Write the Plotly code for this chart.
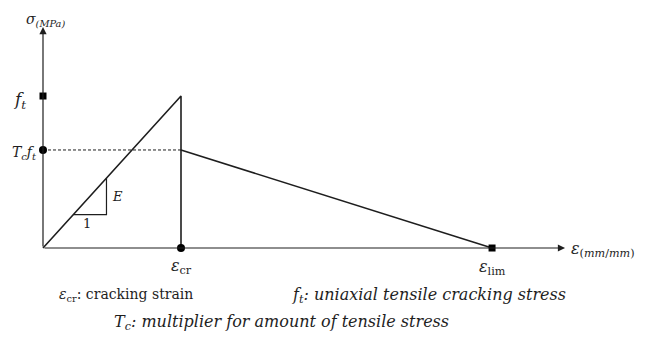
import plotly.graph_objects as go

# ---- data (schematic units) ----
eps_cr = 1.0          # cracking strain
eps_lim = 3.254       # limiting strain
f_t = 3.0             # uniaxial tensile cracking stress
T_c = 0.645           # multiplier for tensile stress
E = f_t / eps_cr      # elastic modulus (slope)

soft_x = [eps_cr, eps_lim]
soft_y = [T_c * f_t, 0.0]

tri_x0, tri_x1 = 0.22, 0.46   # slope-triangle base on the strain axis

x_axis_end = 3.783
y_axis_end = 4.36

FONT = "DejaVu Serif"
INK = "#1e1e1e"

fig = go.Figure()

# loading branch + vertical drop
fig.add_trace(go.Scatter(x=[0, eps_cr, eps_cr], y=[0, f_t, 0], mode="lines",
                         line=dict(color=INK, width=1.6), hoverinfo="skip"))
# softening branch
fig.add_trace(go.Scatter(x=soft_x, y=soft_y, mode="lines",
                         line=dict(color=INK, width=1.6), hoverinfo="skip"))
# dashed Tc*ft level
fig.add_trace(go.Scatter(x=[0, eps_cr], y=[T_c * f_t, T_c * f_t], mode="lines",
                         line=dict(color=INK, width=1, dash="3px,2px"), hoverinfo="skip"))
# slope triangle
fig.add_trace(go.Scatter(x=[tri_x0, tri_x1, tri_x1],
                         y=[E * tri_x0, E * tri_x0, E * tri_x1], mode="lines",
                         line=dict(color=INK, width=1.2), hoverinfo="skip"))
# markers
fig.add_trace(go.Scatter(x=[0, eps_lim], y=[f_t, 0], mode="markers",
                         marker=dict(symbol="square", size=7, color="#000"), hoverinfo="skip"))
fig.add_trace(go.Scatter(x=[0, eps_cr], y=[T_c * f_t, 0], mode="markers",
                         marker=dict(symbol="circle", size=8, color="#000"), hoverinfo="skip"))

# axes with arrows
fig.add_annotation(x=x_axis_end, y=0, ax=0, ay=0, xref="x", yref="y", axref="x", ayref="y",
                   showarrow=True, arrowhead=2, arrowsize=1.2, arrowwidth=1.2, arrowcolor=INK, text="")
fig.add_annotation(x=0, y=y_axis_end, ax=0, ay=0, xref="x", yref="y", axref="x", ayref="y",
                   showarrow=True, arrowhead=2, arrowsize=1.2, arrowwidth=1.2, arrowcolor=INK, text="")

def txt(x, y, s, size=14, xanchor="center"):
    fig.add_annotation(x=x, y=y, xref="x", yref="y", text=s, showarrow=False,
                       xanchor=xanchor, yanchor="middle",
                       font=dict(family=FONT, size=size, color=INK))

txt(0.02, 4.5, "<i>σ<sub>(MPa)</sub></i>", size=14)
txt(-0.17, f_t - 0.08, "<i>f<sub>t</sub></i>", size=17)
txt(-0.238, T_c * f_t - 0.05, "<i>T<sub>c</sub>f<sub>t</sub></i>", size=14, xanchor="left")
txt(tri_x1 + 0.08, E * (tri_x0 + tri_x1) / 2, "<i>E</i>", size=13)
txt((tri_x0 + tri_x1) / 2 - 0.02, E * tri_x0 - 0.17, "1", size=13)
txt(eps_cr, -0.36, "<i>ε</i><sub>cr</sub>", size=16)
txt(eps_lim, -0.38, "<i>ε</i><sub>lim</sub>", size=16)
txt(3.81, -0.02, "<i>ε</i><sub>(<i>mm</i>/<i>mm</i>)</sub>", size=16, xanchor="left")

txt(0.10, -0.93, "<i>ε</i><sub>cr</sub>: cracking strain", size=14, xanchor="left")
txt(1.79, -0.93, "<i>f<sub>t</sub>: uniaxial tensile cracking stress</i>", size=16, xanchor="left")
txt(0.50, -1.47, "<i>T<sub>c</sub>: multiplier for amount of tensile stress</i>", size=16, xanchor="left")

# page body has an 8px margin: figure pixel = screen pixel - 8
fig.update_layout(
    width=637, height=334,
    margin=dict(l=0, r=0, t=0, b=0),
    paper_bgcolor="white", plot_bgcolor="white",
    showlegend=False,
    xaxis=dict(range=[-0.2536, 4.3623], visible=False, fixedrange=True),
    yaxis=dict(range=[-1.855, 4.737], visible=False, fixedrange=True),
)

fig.write_html("out.html")
